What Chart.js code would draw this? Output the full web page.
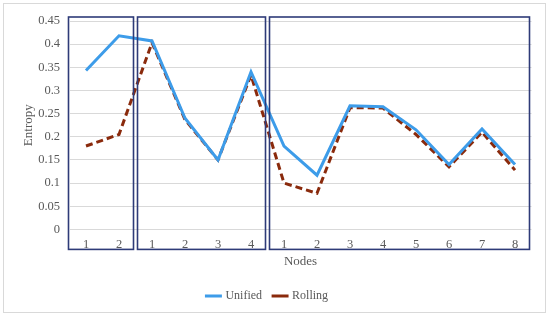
<!DOCTYPE html>
<html>
<head>
<meta charset="utf-8">
<script src="https://cdn.jsdelivr.net/npm/chart.js@4/dist/chart.umd.min.js"></script>
<style>
  html, body { margin: 0; padding: 0; background: #fff; }
  #wrap { position: absolute; left: 3px; top: 3px; width: 541px; height: 308px; border: 1px solid #d9d9d9; }
  canvas { display: block; }
</style>
</head>
<body>
<div id="wrap"><canvas id="chart" width="541" height="308"></canvas></div>
<script>
// datos
const nodos = ['1', '2', '1', '2', '3', '4', '1', '2', '3', '4', '5', '6', '7', '8'];
const unified = [0.343, 0.418, 0.407, 0.240, 0.150, 0.340, 0.180, 0.117, 0.267, 0.265, 0.215, 0.140, 0.217, 0.140];
const rolling = [0.180, 0.205, 0.403, 0.237, 0.150, 0.333, 0.100, 0.078, 0.263, 0.262, 0.205, 0.135, 0.210, 0.128];
// grupos de nodos (indices de categoria)
const grupos = [[0, 1], [2, 5], [6, 13]];

const gris = '#595959';
const serif = '"Liberation Serif", "Times New Roman", serif';
Chart.defaults.font.family = serif;
Chart.defaults.color = gris;

// cajas alrededor de cada grupo
const cajasPlugin = {
    id: 'cajas',
    afterDatasetsDraw(chart) {
        const { ctx, chartArea, scales } = chart;
        const x = scales.x;
        ctx.save();
        ctx.strokeStyle = '#2e3b78';
        ctx.lineWidth = 1.6;
        grupos.forEach(g => {
            const l = x.getPixelForValue(g[0] - 0.5) + (g[0] === 0 ? -1 : 2);
            const r = x.getPixelForValue(g[1] + 0.5) - 2;
            const t = chartArea.top - 4;
            const b = chartArea.bottom + 20;
            ctx.strokeRect(l, t, r - l, b - t);
        });
        ctx.restore();
    }
};

new Chart(document.getElementById('chart').getContext('2d'), {
    type: 'line',
    data: {
        labels: nodos,
        datasets: [
            {
                label: 'Unified',
                data: unified,
                borderColor: '#3d9ce9',
                backgroundColor: '#3d9ce9',
                borderWidth: 3,
                pointRadius: 0,
                tension: 0,
                fill: false
            },
            {
                label: 'Rolling',
                data: rolling,
                borderColor: '#8a2a0c',
                backgroundColor: '#8a2a0c',
                borderWidth: 3,
                borderDash: [7, 4],
                pointRadius: 0,
                tension: 0,
                fill: false
            }
        ]
    },
    options: {
        responsive: false,
        animation: false,
        layout: { padding: { top: 13, right: 13.5, left: 0, bottom: 0 } },
        plugins: {
            legend: {
                position: 'bottom',
                labels: {
                    usePointStyle: true,
                    pointStyle: 'line',
                    boxWidth: 35,
                    color: gris,
                    font: { family: serif, size: 12 },
                    padding: 12
                }
            },
            tooltip: { enabled: false }
        },
        scales: {
            x: {
                offset: true,
                grid: { display: false },
                border: { display: false },
                ticks: { color: gris, font: { family: serif, size: 12.5 }, maxRotation: 0, autoSkip: false, padding: 0 },
                title: { display: true, text: 'Nodes', color: gris, font: { family: serif, size: 13 }, padding: { top: 0, bottom: 9 } },
                afterFit: s => { s.height = 48.6; }
            },
            y: {
                min: 0,
                max: 0.45,
                border: { display: false },
                grid: { color: '#d9d9d9', lineWidth: 1, drawTicks: false },
                ticks: {
                    stepSize: 0.05,
                    color: gris,
                    font: { family: serif, size: 12.5 },
                    padding: 9.5,
                    callback: v => String(Number(v.toFixed(2)))
                },
                title: { display: true, text: 'Entropy', color: gris, font: { family: serif, size: 13 }, padding: { top: 17, bottom: 0 } },
                afterFit: s => { s.width = 65.5; }
            }
        }
    },
    plugins: [cajasPlugin]
});
</script>
</body>
</html>
